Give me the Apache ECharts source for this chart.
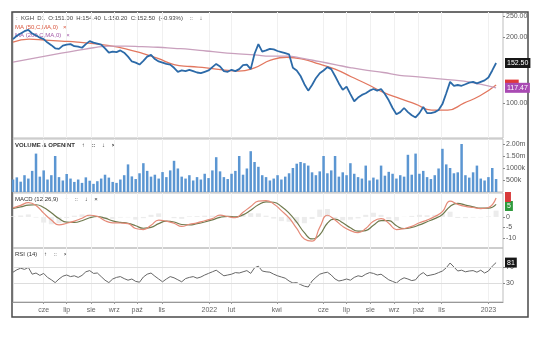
<!DOCTYPE html>
<html><head><meta charset="utf-8">
<script src="https://cdn.jsdelivr.net/npm/echarts@6/dist/echarts.min.js"></script>
<style>html,body{margin:0;padding:0;background:#fff}#c{width:536px;height:344px}</style>
</head><body><div id="c"></div>
<script>
// ---- data ----
const seriesStart = [2021, 3, 22];           // first trading day shown
const priceStepDays = 5;
const price = [196,203,208,213,216,208,204,199,196,189,184,178,177,183,185,186,182,181,179,186,
192,189,187,185,178,170,172,171,174,170,163,155,153,150,156,163,166,159,155,153,
151,150,145,139,141,140,142,140,138,137,139,141,146,151,147,140,139,142,140,143,
149,150,143,168,186,172,174,177,176,173,171,169,167,145,141,133,122,114,121,130,
137,141,146,143,133,123,115,119,110,102,106,109,111,114,116,114,116,110,103,95,
89,91,95,91,88,86,90,96,90,90,91,93,99,111,125,120,121,120,122,124,
125,123,125,127,131,141,152.5];
const volume = [520,610,430,700,560,880,1600,640,900,520,700,1500,620,480,750,560,420,520,380,610,
470,340,450,560,720,600,420,380,520,700,1150,650,540,780,1200,880,640,720,560,830,
620,900,1300,980,640,560,700,480,620,520,760,580,900,1450,860,620,540,760,880,1500,
720,980,1700,1250,1050,700,620,480,560,700,520,640,780,1000,1180,1250,1200,1100,820,700,
860,1500,780,900,1500,640,820,700,1200,760,620,560,1100,480,600,520,1100,680,840,760,
560,700,640,1550,720,1600,760,880,620,540,700,980,1800,1150,1000,780,820,2000,700,600,
820,1100,560,480,620,1000,540];
const rsi = [57,63,67,64,69,52,55,49,54,44,38,31,40,47,50,46,48,44,49,58,
61,54,55,46,37,31,40,44,46,41,37,40,34,32,45,52,55,47,40,33,
40,46,43,38,33,41,44,46,42,45,50,54,58,62,55,48,50,52,56,55,
58,61,54,68,72,60,58,57,52,48,45,42,35,30,31,26,22,20,35,44,
52,55,57,50,40,35,37,40,37,44,48,46,52,56,54,50,52,45,38,34,
30,38,43,40,36,38,50,56,48,50,52,56,60,68,80,70,60,62,58,60,
61,57,62,55,60,72,81];
const maStepDays = 21;
const ma50 = [190,196,194,192,190,187,183,177,169,160,150,147,145,142,140,145,157,162,159,151,
143,132,122,112,105,99,93,93,100,108,121];
const ma200 = [154,159,164,169,174,179,182,182,181,180,178,176,173,170,168,166,164,164,160,155,
150,145,141,138,134,132,130,128,126,122,117.47];
const macdStepDays = 10;
const macd = [4.3,5.5,6.8,5.5,1.8,-1.5,-3.8,-3.0,-2.0,-0.6,0.8,0.3,-1.8,-2.8,-2.9,-3.2,-5.5,-6.0,-4.0,-1.5,
-2.0,-3.0,-4.5,-3.5,-2.8,-1.8,-0.8,0.9,0.2,-0.3,2.2,5.0,7.5,7.8,6.2,3.0,-0.5,-5.5,-10.5,-11.5,
-5.0,0.8,-1.5,-4.5,-6.5,-7.5,-5.5,-2.0,-0.8,-3.0,-6.0,-5.5,-4.5,-2.8,-1.5,0.2,2.5,7.5,6.0,5.0,
4.5,4.0,4.5,9.0];
const signal = [4.0,4.8,5.6,5.8,4.5,2.0,-0.8,-2.5,-2.6,-1.8,-0.4,0.2,-0.6,-1.9,-2.6,-3.0,-4.2,-5.4,-5.0,-3.2,
-2.0,-2.4,-3.6,-3.8,-3.2,-2.4,-1.4,-0.2,0.3,0.0,1.0,3.2,5.8,7.2,7.0,5.0,1.8,-2.5,-7.5,-10.5,
-8.5,-3.0,-1.0,-2.8,-5.2,-6.8,-6.5,-4.0,-1.8,-1.8,-4.2,-5.6,-5.0,-3.8,-2.3,-0.8,1.2,5.0,6.5,5.6,
4.8,4.2,4.2,6.0];
const hist = [0.3,0.7,1.2,-0.3,-2.7,-3.5,-3.0,-0.5,0.6,1.2,1.2,0.1,-1.2,-0.9,-0.3,-0.2,-1.3,-0.6,1.0,1.7,
0,-0.6,-0.9,0.3,0.4,0.6,0.6,1.1,-0.1,-0.3,1.2,1.8,1.7,0.6,-0.8,-2.0,-2.3,-3.0,-3.0,-1.0,
3.5,3.8,-0.5,-1.7,-1.3,-0.7,1.0,2.0,1.0,-1.2,-1.8,0.1,0.5,1.0,0.8,1.0,1.3,2.5,-0.5,-0.6,
-0.3,-0.2,0.3,3.0];
const tickDates = [[2021,5,1],[2021,6,1],[2021,7,2],[2021,8,1],[2021,9,1],[2021,10,2],[2022,0,3],[2022,1,1],
[2022,3,1],[2022,5,1],[2022,6,1],[2022,7,1],[2022,8,1],[2022,9,3],[2022,10,2],[2023,0,2]];
const tickLabels = ['cze','lip','sie','wrz','paź','lis','2022','lut','kwi','cze','lip','sie','wrz','paź','lis','2023'];
const priceTicks = [100,200,250];
const volumeTicks = [500,1000,1500,2000];
const macdTicks = [-10,-5,0];
const rsiTicks = [30,70];

// ---- helpers ----
const T = (a) => new Date(a[0], a[1], a[2]).getTime();
const dayT = (k) => new Date(seriesStart[0], seriesStart[1], seriesStart[2] + k).getTime();
const pairs = (arr, step) => arr.map((v, i) => [dayT(i * step), v]);
const tickTs = tickDates.map(T);
const xMin = T([2021,3,22]), xMax = T([2023,0,21]);

const grids = [
  {left:13, right:33, top:12, height:126},
  {left:13, right:33, top:139, height:53},
  {left:13, right:33, top:193, height:55},
  {left:13, right:33, top:248, height:54}
].map(g => Object.assign(g, {show:true, borderColor:'#bdbdbd', borderWidth:1}));

const xAxes = [0,1,2,3].map(k => ({
  type:'value', gridIndex:k, min:xMin, max:xMax, scale:true,
  axisLine:{show:k===3, onZero:false, lineStyle:{color:'#999'}},
  axisTick:{show:k===3, customValues:tickTs, length:2, lineStyle:{color:'#999'}},
  axisLabel:{show:k===3, customValues:tickTs, fontSize:7, color:'#666', margin:5, fontFamily:'Liberation Sans',
    formatter:(v)=>{ const i = tickTs.indexOf(v); return i>=0 ? tickLabels[i] : ''; }},
  splitLine:{show:true, lineStyle:{color:'#f0f0f0'}}
}));

const yLab = {fontSize:7, color:'#555', margin:3, fontFamily:'Liberation Sans'};
const yAxes = [
  {type:'log', logBase:10, gridIndex:0, position:'right', min:69.3, max:260.7,
   axisLine:{show:false}, splitLine:{show:false},
   axisTick:{show:true, customValues:priceTicks, length:2, lineStyle:{color:'#888'}},
   axisLabel:Object.assign({customValues:priceTicks, formatter:v=>Number(v).toFixed(2)}, yLab)},
  {type:'value', gridIndex:1, position:'right', min:0, max:2208,
   axisLine:{show:false}, splitLine:{show:false},
   axisTick:{show:true, customValues:volumeTicks, length:2, lineStyle:{color:'#888'}},
   axisLabel:Object.assign({customValues:volumeTicks, formatter:v=> v>=1500 ? (v/1000).toFixed(2)+'m' : v+'k'}, yLab)},
  {type:'value', gridIndex:2, position:'right', min:-14.8, max:11.4,
   axisLine:{show:false}, splitLine:{show:false},
   axisTick:{show:true, customValues:macdTicks, length:2, lineStyle:{color:'#888'}},
   axisLabel:Object.assign({customValues:macdTicks}, yLab)},
  {type:'value', gridIndex:3, position:'right', min:-17.5, max:117.5,
   axisLine:{show:false},
   splitLine:{show:false},
   axisTick:{show:true, customValues:rsiTicks, length:2, lineStyle:{color:'#888'}},
   axisLabel:Object.assign({customValues:rsiTicks}, yLab)}
];

function badge(val, text, bg, fg) {
  return {silent:true, symbol:'none', animation:false,
    lineStyle:{color:'rgba(0,0,0,0)', width:1, opacity:1},
    data:[{yAxis:val}],
    label:{show:true, position:'end', distance:2, formatter:text, backgroundColor:bg, color:fg||'#fff',
      fontSize:7, padding:[2,2,1,2], fontFamily:'Liberation Sans', opacity:1}};
}

const option = {
  animation:false,
  grid:grids, xAxis:xAxes, yAxis:yAxes,
  series:[
    {type:'line', name:'MA50', xAxisIndex:0, yAxisIndex:0, data:pairs(ma50, maStepDays), smooth:true,
     showSymbol:false, lineStyle:{color:'#e2775f', width:1.3}, z:1,
     markLine:Object.assign(badge(121.5, '     ', '#e03a3a'), {z:5})},
    {type:'line', name:'MA200', xAxisIndex:0, yAxisIndex:0, data:pairs(ma200, maStepDays), smooth:true,
     showSymbol:false, lineStyle:{color:'#c9a0bd', width:1.3}, z:2,
     markLine:Object.assign(badge(117.47, '117.47', '#a94ab3'), {z:6})},
    {type:'line', name:'KGH', xAxisIndex:0, yAxisIndex:0, data:pairs(price, priceStepDays),
     showSymbol:false, lineStyle:{color:'#2c6aa8', width:1.8}, z:3,
     markLine:badge(152.5, '152.50', '#161616')},
    {type:'bar', xAxisIndex:1, yAxisIndex:1, data:pairs(volume, priceStepDays), barWidth:2.5,
     itemStyle:{color:'#5b96d2'}},
    {type:'bar', xAxisIndex:2, yAxisIndex:2, data:pairs(hist, macdStepDays), barWidth:5,
     itemStyle:{color:'#ececec'}},
    {type:'line', xAxisIndex:2, yAxisIndex:2, data:pairs(signal, macdStepDays), smooth:true,
     showSymbol:false, lineStyle:{color:'#6f7a4e', width:1.2},
     markLine:badge(5.2, '5', '#2f9a3c')},
    {type:'line', xAxisIndex:2, yAxisIndex:2, data:pairs(macd, macdStepDays), smooth:true,
     showSymbol:false, lineStyle:{color:'#e58a78', width:1.2},
     markLine:badge(9.5, ' ', '#d83a3a')},
    {type:'line', xAxisIndex:3, yAxisIndex:3, data:pairs(rsi, priceStepDays),
     showSymbol:false, lineStyle:{color:'#666', width:1},
     markLine:{silent:true, symbol:'none', lineStyle:{color:'#ddd', width:1, type:'solid'},
       label:{show:false}, data:[{yAxis:30},{yAxis:70}]}},
    {type:'line', xAxisIndex:3, yAxisIndex:3, data:[], markLine:badge(81, '81', '#161616')}
  ],
  graphic:[
    {type:'rect', shape:{x:12, y:12, width:516, height:305}, style:{fill:'none', stroke:'#4a4a4a', lineWidth:1.5}, silent:true},
    {type:'text', left:16, top:15, style:{text:':  KGH  D1  O:151.00  H:154.40  L:150.20  C:152.50  (+0.93%)    ::    ↓', fill:'#444', font:'6px "Liberation Sans"'}},
    {type:'text', left:15, top:24, style:{text:'MA (50,C,MA,0)   ×', fill:'#d9573f', font:'6px "Liberation Sans"'}},
    {type:'text', left:15, top:32, style:{text:'MA (200,C,MA,0)   ×', fill:'#a45aa8', font:'6px "Liberation Sans"'}},
    {type:'text', left:15, top:142, style:{text:'VOLUME & OPENINT    ↑    ::    ↓    ×', fill:'#333', font:'bold 6px "Liberation Sans"'}},
    {type:'text', left:15, top:196, style:{text:'MACD (12,26,9)    ↑    ::    ↓    ×', fill:'#333', font:'6px "Liberation Sans"'}},
    {type:'text', left:15, top:251, style:{text:'RSI (14)    ↑    ::    ×', fill:'#333', font:'6px "Liberation Sans"'}}
  ]
};
const chart = echarts.init(document.getElementById('c'), null, {renderer:'canvas'});
chart.setOption(option);
</script></body></html>
